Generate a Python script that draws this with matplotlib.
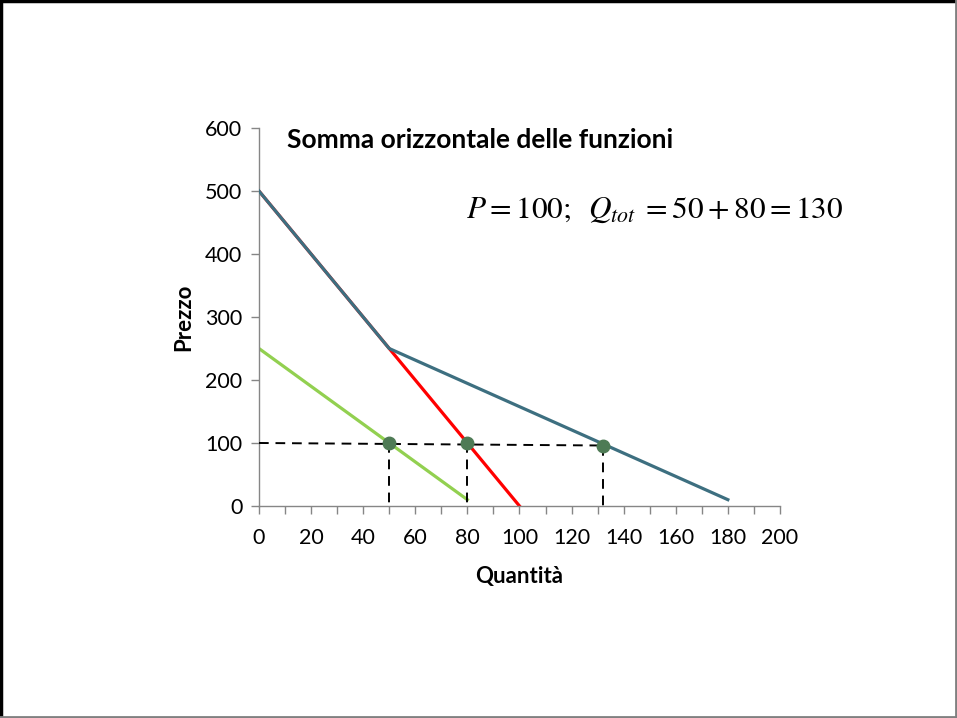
import matplotlib.pyplot as plt
from matplotlib.lines import Line2D

# data
q_red = [0, 100]
p_red = [500, 0]
q_green = [0, 80]
p_green = [250, 10]
q_sum = [0, 50, 180]
p_sum = [500, 250, 10]
q_pts = [50, 80, 132]
p_pts = [100, 100, 96]

plt.rcParams['font.family'] = ['Lato', 'DejaVu Sans']
plt.rcParams['mathtext.fontset'] = 'stix'

fig = plt.figure(figsize=(9.57, 7.18), dpi=100)
ax = fig.add_axes([0.2706, 0.2953, 0.5444, 0.5264])

ax.plot(q_red, p_red, color='#FF0000', linewidth=2.3, zorder=2)
ax.plot(q_sum, p_sum, color='#3D6F80', linewidth=2.3, zorder=3)
ax.plot(q_green, p_green, color='#92D050', linewidth=2.3, zorder=2)

# dashed guides
dash = dict(color='black', linewidth=1.4, dashes=(5, 3.5), zorder=4)
ax.plot([0, q_pts[-1]], [p_pts[0], p_pts[-1]], **dash)
for q, p in zip(q_pts, p_pts):
    ax.plot([q, q], [p, 0], **dash)

ax.plot(q_pts, p_pts, 'o', color='#4E7B55', markersize=9, zorder=5)

ax.set_xlim(0, 200)
ax.set_ylim(0, 600)
ax.set_xticks(range(0, 201, 10))
ax.set_xticklabels([str(v) if v % 20 == 0 else '' for v in range(0, 201, 10)])
ax.set_yticks(range(0, 601, 100))
for s in ['top', 'right']:
    ax.spines[s].set_visible(False)
for s in ['left', 'bottom']:
    ax.spines[s].set_color('#868686')
    ax.spines[s].set_linewidth(1)
ax.tick_params(direction='out', length=6, width=1, color='#868686',
               labelsize=15.5, pad=6)
ax.tick_params(axis='x', pad=10)

ax.set_xlabel('Quantità', fontsize=16, fontweight='bold', labelpad=13)
ax.set_ylabel('Prezzo', fontsize=16, fontweight='bold', labelpad=8)

fig.text(287 / 957, 1 - 140 / 718, 'Somma orizzontale delle funzioni',
         fontsize=19, fontweight='bold', ha='left', va='center')
fig.text(466 / 957, 1 - 210 / 718,
         r'$P=100;\;\;Q_{tot}\;=50+80=130$',
         fontsize=22.5, ha='left', va='center')

# slide frame
fig.add_artist(Line2D([0, 1], [0.998, 0.998], color='black', linewidth=2.5, transform=fig.transFigure))
fig.add_artist(Line2D([0.001, 0.001], [0, 1], color='black', linewidth=2.5, transform=fig.transFigure))
fig.add_artist(Line2D([0.999, 0.999], [0, 1], color='#808080', linewidth=2, transform=fig.transFigure))
fig.add_artist(Line2D([0, 1], [0.002, 0.002], color='#808080', linewidth=2, transform=fig.transFigure))

fig.savefig('out.png', dpi=100)
